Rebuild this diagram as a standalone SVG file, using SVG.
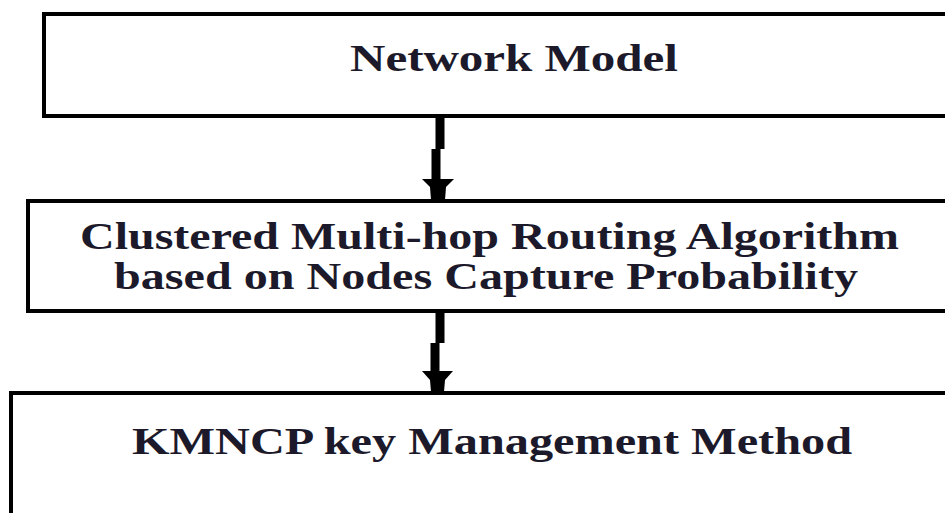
<svg xmlns="http://www.w3.org/2000/svg" width="945" height="513" viewBox="0 0 945 513">
  <style>
    .box { fill: #ffffff; stroke: #000000; stroke-width: 4; }
    .label { font-family: "Liberation Serif", "Times New Roman", serif; font-size: 38px; font-weight: bold; fill: #1c1a2a; }
    .link { fill: none; stroke: #000000; stroke-width: 9; }
    .head { fill: #000000; }
  </style>
  <rect width="945" height="513" fill="#ffffff"/>

  <g id="network-model">
    <rect class="box" x="44" y="14" width="920" height="102"/>
    <text class="label" x="350" y="71" textLength="328" lengthAdjust="spacingAndGlyphs">Network Model</text>
  </g>

  <g id="routing-algorithm">
    <rect class="box" x="28" y="201" width="940" height="110"/>
    <text class="label" x="80" y="249" textLength="819" lengthAdjust="spacingAndGlyphs">Clustered Multi-hop Routing Algorithm</text>
    <text class="label" x="114" y="289" textLength="744" lengthAdjust="spacingAndGlyphs">based on Nodes Capture Probability</text>
  </g>

  <g id="kmncp-method">
    <rect class="box" x="11" y="393" width="960" height="140"/>
    <text class="label" x="132" y="454" textLength="720" lengthAdjust="spacingAndGlyphs">KMNCP key Management Method</text>
  </g>

  <g id="connectors">
    <path class="link" d="M440,114 V149 M436,149 V182"/>
    <path class="head" d="M422,179 H454 L446,187 L445,200 H431 L430,187 Z"/>
    <path class="link" d="M440,313 V343 M435,343 V374"/>
    <path class="head" d="M422,371 H453 L445,380 L444,392 H431 L430,380 Z"/>
  </g>
</svg>
